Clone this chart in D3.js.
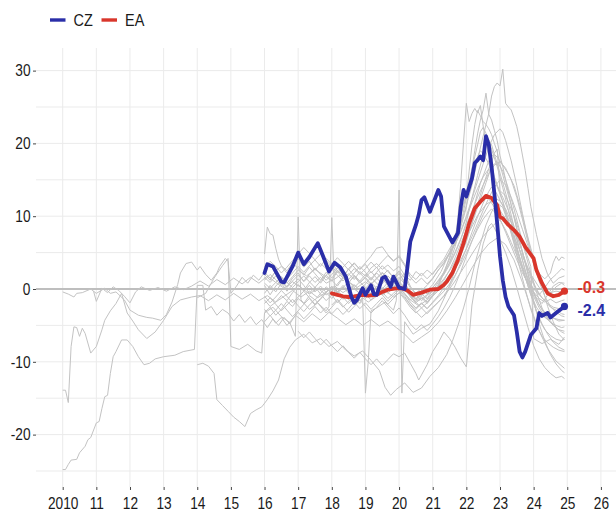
<!DOCTYPE html>
<html>
<head>
<meta charset="utf-8">
<script src="https://cdn.jsdelivr.net/npm/d3@7"></script>
<style>
  html, body { margin: 0; padding: 0; background: #fff; }
  svg { display: block; font-family: "Liberation Sans", Arial, Helvetica, sans-serif; }
</style>
</head>
<body>
<svg id="chart" width="616" height="511"></svg>
<script>
// ---- axis ticks ----
const yearTicks = [2010, 2011, 2012, 2013, 2014, 2015, 2016, 2017, 2018, 2019, 2020, 2021, 2022, 2023, 2024, 2025, 2026];
const valueTicks = [30, 20, 10, 0, -10, -20];
const gridValues = [-25, -20, -15, -10, -5, 0, 5, 10, 15, 20, 25, 30];

// ---- highlighted series ----
const czSeries = [["2016-01",2.2],["2016-02",3.4],["2016-04",3.1],["2016-07",1.0],["2016-08",0.9],["2016-11",3.1],["2017-01",5.0],["2017-03",3.4],["2017-05",4.4],["2017-08",6.3],["2017-10",4.4],["2017-12",2.4],["2018-02",3.6],["2018-04",3.0],["2018-06",1.7],["2018-08",-1.1],["2018-09",-1.9],["2018-10",-1.5],["2018-12",0.1],["2019-01",-0.8],["2019-03",0.5],["2019-04",-0.7],["2019-05",-0.8],["2019-07",1.5],["2019-08",1.7],["2019-10",0.3],["2019-11",1.7],["2020-01",0.2],["2020-03",0.0],["2020-04",3.1],["2020-05",6.5],["2020-07",8.8],["2020-08",10.2],["2020-09",12.2],["2020-10",12.6],["2020-12",10.6],["2021-03",13.6],["2021-04",12.7],["2021-05",8.6],["2021-08",6.4],["2021-10",7.7],["2021-11",11.3],["2021-12",13.6],["2022-01",12.7],["2022-03",15.2],["2022-04",17.3],["2022-05",17.7],["2022-06",18.2],["2022-07",17.7],["2022-08",21.0],["2022-09",19.8],["2022-10",16.8],["2022-11",13.1],["2022-12",9.0],["2023-01",4.5],["2023-02",1.2],["2023-03",-1.1],["2023-04",-2.4],["2023-06",-3.6],["2023-07",-5.9],["2023-08",-8.6],["2023-09",-9.4],["2023-10",-8.6],["2023-12",-6.3],["2024-02",-5.4],["2024-03",-3.3],["2024-04",-3.7],["2024-06",-3.3],["2024-07",-3.9],["2024-09",-3.3],["2024-10",-3.0],["2024-12",-2.4]];

const eaSeries = [["2018-01",-0.6],["2018-03",-0.8],["2018-05",-1.0],["2018-07",-1.1],["2018-09",-1.0],["2018-12",-0.8],["2019-02",-0.9],["2019-05",-0.8],["2019-07",-0.4],["2019-09",-0.1],["2019-12",0.1],["2020-02",0.1],["2020-04",-0.2],["2020-06",-0.8],["2020-09",-0.5],["2020-12",-0.1],["2021-03",0.0],["2021-05",0.6],["2021-06",1.0],["2021-08",2.2],["2021-10",4.0],["2021-12",6.3],["2022-02",9.0],["2022-04",11.1],["2022-06",12.0],["2022-08",12.8],["2022-10",12.5],["2022-12",11.5],["2023-01",9.9],["2023-02",9.7],["2023-04",8.8],["2023-06",8.1],["2023-08",7.2],["2023-10",5.8],["2024-01",4.2],["2024-02",2.6],["2024-04",0.8],["2024-06",-0.6],["2024-08",-1.0],["2024-10",-0.8],["2024-12",-0.3]];

// ---- other member states (grey background lines) ----
const peer01 = [["2010-01",-24.8],["2010-02",-24.8],["2010-03",-24.1],["2010-04",-23.5],["2010-06",-23.4],["2010-07",-22.5],["2010-09",-21.6],["2010-10",-20.7],["2010-11",-20.4],["2011-01",-18.4],["2011-02",-18.2],["2011-03",-16.4],["2011-04",-14.8],["2011-05",-14.6],["2011-06",-11.6],["2011-07",-9.3],["2011-08",-8.6],["2011-10",-7.0],["2011-12",-7.0],["2012-02",-7.9],["2012-04",-9.3],["2012-06",-10.4],["2012-08",-10.2],["2012-10",-9.6],["2013-01",-9.3],["2013-05",-9.1],["2013-08",-8.6],["2013-12",-8.3],["2014-01",0.5],["2014-03",0.5],["2014-04",-2.9],["2014-06",-2.4],["2014-08",-3.6],["2014-10",-2.8],["2014-12",-3.3],["2015-02",-4.4],["2015-04",-3.5],["2015-06",-4.6],["2015-08",-3.8],["2015-10",-4.9],["2015-12",-4.2],["2016-02",-5.3],["2016-04",-4.1],["2016-06",-5.0],["2016-08",-3.9],["2016-10",-4.8],["2016-12",-3.6],["2017-03",-4.5],["2017-06",-3.4],["2017-09",-4.3],["2017-12",-3.2],["2018-03",-4.0],["2018-06",-4.9],["2018-09",-4.1],["2018-12",-5.0],["2019-03",-4.2],["2019-06",-5.1],["2019-09",-4.4],["2019-12",-5.3],["2020-03",-6.2],["2020-06",-7.4],["2020-09",-6.6],["2020-12",-5.8],["2021-03",-4.6],["2021-06",-3.0],["2021-09",-1.2],["2021-12",0.8],["2022-03",2.9],["2022-06",4.8],["2022-09",6.2],["2022-12",7.0],["2023-03",6.1],["2023-06",4.0],["2023-09",0.9],["2023-12",-2.6],["2024-03",-5.8],["2024-06",-8.2],["2024-09",-9.9],["2024-12",-10.9]];

const peer02 = [["2010-01",-13.9],["2010-02",-13.9],["2010-03",-15.6],["2010-04",-7.9],["2010-05",-5.2],["2010-06",-5.3],["2010-07",-6.5],["2010-08",-5.4],["2010-09",-6.1],["2010-11",-8.8],["2011-01",-7.9],["2011-03",-5.6],["2011-04",-4.3],["2011-06",-3.0],["2011-08",-2.0],["2011-10",-0.6],["2011-12",-3.3],["2012-02",-4.4],["2012-04",-5.6],["2012-07",-6.8],["2012-10",-5.9],["2013-01",-4.3],["2013-04",-2.4],["2013-07",-1.5],["2013-11",-1.1],["2014-02",-0.9],["2014-05",-1.6],["2014-08",-0.8],["2014-11",-1.5],["2015-02",-0.6],["2015-05",-1.4],["2015-08",-0.7],["2015-11",-1.6],["2016-02",-0.9],["2016-05",-1.8],["2016-08",-1.0],["2016-11",-0.2],["2017-02",-1.1],["2017-05",-0.3],["2017-08",-1.2],["2017-11",-0.4],["2018-02",0.4],["2018-05",-0.5],["2018-08",0.3],["2018-11",-0.6],["2019-02",0.2],["2019-05",-0.7],["2019-08",0.1],["2019-11",0.9],["2020-02",0.1],["2020-05",-0.9],["2020-08",-1.6],["2020-11",-0.8],["2021-02",0.0],["2021-05",1.4],["2021-08",3.1],["2021-11",5.4],["2022-02",7.8],["2022-05",10.1],["2022-08",11.6],["2022-10",12.1],["2022-12",11.4],["2023-03",9.6],["2023-06",7.2],["2023-09",4.5],["2023-12",2.0],["2024-03",0.2],["2024-06",-0.6],["2024-09",-0.3],["2024-12",-0.5]];

const peer03 = [["2010-01",-0.4],["2010-03",-0.7],["2010-05",-1.1],["2010-06",-0.6],["2010-08",-0.5],["2010-11",0.0],["2011-01",-0.6],["2011-04",0.1],["2011-06",-0.6],["2011-08",-0.4],["2011-11",-1.5],["2012-01",-2.9],["2012-04",-3.6],["2012-07",-3.9],["2012-09",-4.0],["2012-12",-4.3],["2013-02",-3.5],["2013-04",-1.8],["2013-06",0.6],["2013-07",2.2],["2013-09",3.5],["2013-11",3.7],["2014-01",2.6],["2014-02",3.1],["2014-04",2.0],["2014-06",1.2],["2014-08",2.2],["2014-09",3.1],["2014-11",4.2],["2014-12",3.8],["2015-01",-0.6],["2015-03",0.4],["2015-05",1.6],["2015-07",0.8],["2015-09",1.9],["2015-11",1.2],["2016-01",2.3],["2016-03",1.5],["2016-05",2.4],["2016-07",1.6],["2016-09",0.8],["2016-11",1.7],["2017-01",2.6],["2017-04",1.8],["2017-07",2.7],["2017-10",1.9],["2018-01",1.1],["2018-04",1.9],["2018-07",1.0],["2018-10",0.2],["2019-01",1.0],["2019-04",0.1],["2019-07",-0.8],["2019-10",0.0],["2020-01",0.8],["2020-04",-0.5],["2020-07",-1.4],["2020-10",-0.6],["2021-01",0.6],["2021-04",2.4],["2021-07",5.0],["2021-10",8.6],["2022-01",12.8],["2022-03",16.5],["2022-05",19.8],["2022-06",21.6],["2022-07",22.2],["2022-08",21.4],["2022-10",19.2],["2022-12",16.8],["2023-02",13.9],["2023-04",10.8],["2023-06",7.5],["2023-08",4.4],["2023-10",1.6],["2023-12",-0.8],["2024-02",-2.5],["2024-04",-3.6],["2024-06",-4.2],["2024-08",-4.0],["2024-10",-4.4],["2024-12",-4.3]];

const peer04 = [["2010-12",-0.3],["2011-01",-1.7],["2011-03",0.1],["2011-05",-0.5],["2011-07",0.3],["2011-09",-0.2],["2011-11",-1.0],["2012-01",-1.9],["2012-03",-0.4],["2012-05",0.3],["2012-08",-0.2],["2012-11",0.2],["2013-02",-0.3],["2013-05",0.3],["2013-08",-0.1],["2013-11",0.4],["2014-02",1.1],["2014-05",0.4],["2014-08",1.3],["2014-11",0.6],["2015-02",1.5],["2015-05",0.7],["2015-08",1.6],["2015-11",0.8],["2016-02",1.8],["2016-05",0.9],["2016-08",0.1],["2016-11",1.0],["2017-02",0.2],["2017-05",-0.7],["2017-08",0.1],["2017-11",-0.8],["2018-02",0.0],["2018-05",-0.9],["2018-08",-1.7],["2018-11",-0.9],["2019-02",-1.8],["2019-05",-1.0],["2019-08",-0.2],["2019-11",-1.1],["2020-02",-0.3],["2020-05",-1.5],["2020-08",-2.3],["2020-11",-1.5],["2021-02",-0.6],["2021-05",0.8],["2021-08",2.6],["2021-11",4.9],["2022-02",7.9],["2022-05",11.2],["2022-08",14.6],["2022-10",16.8],["2022-12",17.5],["2023-02",16.2],["2023-04",13.8],["2023-06",11.0],["2023-08",8.0],["2023-10",5.0],["2023-12",2.2],["2024-02",-0.4],["2024-04",-2.6],["2024-06",-4.1],["2024-08",-5.0],["2024-10",-5.6],["2024-12",-5.8]];

const peer05 = [["2014-01",-1.2],["2014-04",-0.6],["2014-07",1.5],["2014-10",3.2],["2014-12",4.2],["2015-01",-7.9],["2015-04",-8.3],["2015-07",-7.6],["2015-10",-8.5],["2015-12",-8.8],["2016-01",-3.3],["2016-04",-2.5],["2016-07",-3.8],["2016-10",-4.6],["2016-12",-6.5],["2017-01",9.9],["2017-02",-1.5],["2017-05",-2.8],["2017-08",-1.9],["2017-11",-3.0],["2017-12",-2.4],["2018-01",9.8],["2018-02",-0.5],["2018-05",-1.4],["2018-08",-0.6],["2018-11",-2.0],["2018-12",-1.2],["2019-01",-14.3],["2019-02",-10.0],["2019-03",-3.0],["2019-05",-2.6],["2019-08",-1.8],["2019-11",-2.9],["2019-12",-1.6],["2020-01",13.6],["2020-02",-14.3],["2020-03",-4.5],["2020-06",-6.2],["2020-09",-5.4],["2020-12",-4.8],["2021-03",-3.0],["2021-06",-0.5],["2021-09",2.6],["2021-12",6.2],["2022-03",10.4],["2022-06",14.5],["2022-09",17.6],["2022-12",19.2],["2023-01",13.5],["2023-03",12.8],["2023-06",10.1],["2023-09",6.5],["2023-12",3.1],["2024-01",-6.8],["2024-04",-7.5],["2024-07",-6.9],["2024-10",-7.6],["2024-12",-6.6]];

const peer06 = [["2016-01",-1.5],["2016-03",-2.4],["2016-05",-1.8],["2016-07",-0.9],["2016-09",-1.6],["2016-11",-0.5],["2017-01",0.6],["2017-03",-0.2],["2017-05",0.9],["2017-07",1.7],["2017-09",0.8],["2017-11",1.9],["2018-01",1.2],["2018-03",2.4],["2018-05",1.5],["2018-07",2.8],["2018-09",3.6],["2018-11",2.7],["2019-01",3.4],["2019-03",2.2],["2019-05",3.0],["2019-07",1.8],["2019-09",2.6],["2019-11",1.5],["2020-01",2.3],["2020-03",0.8],["2020-05",-0.9],["2020-07",-1.8],["2020-09",-2.6],["2020-11",-1.9],["2021-01",-0.8],["2021-03",0.6],["2021-05",2.4],["2021-07",4.1],["2021-09",6.5],["2021-10",9.8],["2021-11",14.5],["2021-12",20.2],["2022-01",25.5],["2022-02",23.0],["2022-03",24.1],["2022-04",24.8],["2022-05",24.2],["2022-06",25.2],["2022-07",22.4],["2022-08",20.1],["2022-09",18.6],["2022-10",17.5],["2022-11",15.3],["2022-12",14.1],["2023-02",12.0],["2023-04",9.2],["2023-06",6.4],["2023-08",3.8],["2023-10",1.5],["2023-12",0.2],["2024-02",-1.2],["2024-04",-2.0],["2024-06",-0.8],["2024-08",0.4],["2024-10",0.9],["2024-12",0.8]];

const peer07 = [["2016-01",2.0],["2016-03",1.2],["2016-05",2.5],["2016-07",3.1],["2016-09",2.2],["2016-11",3.4],["2017-01",4.2],["2017-03",3.0],["2017-05",3.8],["2017-07",2.6],["2017-09",3.5],["2017-11",2.8],["2018-01",3.6],["2018-03",2.5],["2018-05",1.9],["2018-07",2.7],["2018-09",1.8],["2018-11",0.9],["2019-01",1.6],["2019-03",0.7],["2019-05",1.5],["2019-07",2.3],["2019-09",1.4],["2019-11",0.6],["2020-01",1.3],["2020-03",2.1],["2020-05",0.4],["2020-07",-0.8],["2020-09",-0.2],["2020-11",0.5],["2021-01",1.4],["2021-03",2.6],["2021-05",3.5],["2021-07",4.8],["2021-09",6.2],["2021-11",8.5],["2022-01",11.2],["2022-02",13.8],["2022-03",16.5],["2022-04",19.0],["2022-05",21.3],["2022-06",23.2],["2022-07",24.6],["2022-08",26.9],["2022-09",24.0],["2022-10",23.2],["2022-11",21.8],["2022-12",20.4],["2023-01",18.3],["2023-02",16.8],["2023-03",15.0],["2023-05",11.6],["2023-07",8.2],["2023-09",5.1],["2023-11",2.4],["2024-01",0.6],["2024-03",-0.8],["2024-05",-1.6],["2024-07",-2.5],["2024-09",-2.9],["2024-11",-3.4],["2024-12",-3.5]];

const peer08 = [["2016-01",-3.2],["2016-03",-2.5],["2016-05",-3.6],["2016-07",-2.8],["2016-09",-1.7],["2016-11",-2.4],["2017-01",-1.3],["2017-03",-2.0],["2017-05",-0.9],["2017-07",-1.5],["2017-09",-0.6],["2017-11",0.3],["2018-01",-0.4],["2018-03",0.7],["2018-05",1.6],["2018-07",0.8],["2018-09",1.9],["2018-11",1.1],["2019-01",2.0],["2019-03",1.2],["2019-05",2.2],["2019-07",1.4],["2019-09",0.5],["2019-11",1.3],["2020-01",2.1],["2020-03",1.0],["2020-05",-0.6],["2020-07",-1.4],["2020-09",-0.7],["2020-11",-1.3],["2021-01",-0.2],["2021-03",0.9],["2021-05",2.1],["2021-07",3.6],["2021-09",5.8],["2021-11",8.9],["2022-01",12.5],["2022-02",16.2],["2022-03",19.8],["2022-04",22.6],["2022-05",24.5],["2022-06",23.8],["2022-07",23.0],["2022-08",22.6],["2022-09",22.0],["2022-10",21.2],["2022-11",20.0],["2022-12",18.9],["2023-01",17.1],["2023-03",14.2],["2023-05",11.5],["2023-07",8.3],["2023-09",5.0],["2023-11",2.1],["2024-01",-0.4],["2024-03",-2.2],["2024-05",-3.5],["2024-07",-4.4],["2024-09",-5.3],["2024-11",-5.9],["2024-12",-6.1]];

const peer09 = [["2016-01",4.8],["2016-02",8.5],["2016-03",7.6],["2016-04",7.4],["2016-05",5.6],["2016-06",4.1],["2016-07",3.2],["2016-09",2.5],["2016-11",3.6],["2017-01",2.8],["2017-03",1.9],["2017-05",3.0],["2017-07",2.1],["2017-09",1.2],["2017-11",2.3],["2018-01",1.5],["2018-03",2.6],["2018-05",1.8],["2018-07",0.9],["2018-09",1.7],["2018-11",0.8],["2019-01",1.6],["2019-03",2.4],["2019-05",1.5],["2019-07",0.7],["2019-09",1.8],["2019-11",1.0],["2020-01",0.3],["2020-03",-0.6],["2020-05",-1.5],["2020-07",-0.8],["2020-09",-1.6],["2020-11",-0.9],["2021-01",0.2],["2021-03",1.1],["2021-05",2.0],["2021-07",3.3],["2021-09",4.9],["2021-11",6.8],["2022-01",9.2],["2022-03",12.5],["2022-05",15.6],["2022-07",18.4],["2022-08",19.6],["2022-09",20.5],["2022-10",19.8],["2022-11",18.5],["2022-12",17.2],["2023-02",14.6],["2023-04",11.8],["2023-06",8.5],["2023-08",5.4],["2023-10",2.6],["2023-12",0.3],["2024-02",-1.5],["2024-04",-2.8],["2024-06",-3.6],["2024-08",-4.0],["2024-10",-4.2],["2024-12",-4.3]];

const peer10 = [["2016-01",-0.6],["2016-03",0.5],["2016-05",-0.4],["2016-07",0.8],["2016-09",-0.3],["2016-11",0.6],["2017-01",1.4],["2017-03",0.5],["2017-05",-0.6],["2017-07",0.3],["2017-09",-0.7],["2017-11",-1.6],["2018-01",-0.8],["2018-03",-1.9],["2018-05",-1.1],["2018-07",-2.0],["2018-09",-1.2],["2018-11",-0.4],["2019-01",-1.3],["2019-03",-0.5],["2019-05",0.4],["2019-07",-0.4],["2019-09",-1.3],["2019-11",-0.6],["2020-01",0.2],["2020-03",-0.7],["2020-05",-1.8],["2020-07",-2.6],["2020-09",-1.9],["2020-11",-2.7],["2021-01",-1.8],["2021-03",-0.9],["2021-05",0.2],["2021-07",1.5],["2021-09",2.9],["2021-11",4.6],["2022-01",6.5],["2022-03",9.0],["2022-05",11.6],["2022-07",14.2],["2022-09",16.5],["2022-11",18.5],["2022-12",18.1],["2023-01",17.6],["2023-02",17.0],["2023-04",15.8],["2023-06",14.2],["2023-08",11.6],["2023-10",8.5],["2023-12",5.6],["2024-02",2.8],["2024-04",0.4],["2024-06",-2.4],["2024-08",-4.5],["2024-10",-6.2],["2024-12",-7.0]];

const peer11 = [["2016-01",1.2],["2016-03",2.0],["2016-05",1.3],["2016-07",0.5],["2016-09",1.4],["2016-11",2.2],["2017-01",3.1],["2017-03",2.3],["2017-05",3.2],["2017-07",4.0],["2017-09",3.1],["2017-11",4.2],["2018-01",3.4],["2018-03",4.3],["2018-05",3.5],["2018-07",2.6],["2018-09",3.5],["2018-11",2.7],["2019-01",3.6],["2019-03",4.5],["2019-05",5.6],["2019-07",5.8],["2019-09",4.7],["2019-11",3.9],["2020-01",4.4],["2020-03",3.2],["2020-05",2.0],["2020-07",1.3],["2020-09",2.2],["2020-11",1.4],["2021-01",2.2],["2021-03",3.0],["2021-05",3.8],["2021-07",5.0],["2021-09",6.1],["2021-11",7.8],["2022-01",9.8],["2022-03",11.9],["2022-05",13.8],["2022-07",15.4],["2022-09",16.5],["2022-10",15.9],["2022-11",15.2],["2022-12",14.1],["2023-02",12.6],["2023-04",10.8],["2023-06",8.6],["2023-08",6.2],["2023-10",3.9],["2023-12",1.8],["2024-02",0.0],["2024-04",-1.2],["2024-06",-2.0],["2024-08",-2.5],["2024-10",-2.7],["2024-12",-2.9]];

const peer12 = [["2016-01",-2.0],["2016-03",-1.2],["2016-05",-2.1],["2016-07",-3.0],["2016-09",-2.2],["2016-11",-1.4],["2017-01",-2.3],["2017-03",-3.1],["2017-05",-2.2],["2017-07",-1.4],["2017-09",-2.4],["2017-11",-3.3],["2018-01",-2.5],["2018-03",-1.6],["2018-05",-2.5],["2018-07",-1.7],["2018-09",-0.8],["2018-11",-1.6],["2019-01",-0.7],["2019-03",-1.5],["2019-05",-0.6],["2019-07",0.2],["2019-09",-0.6],["2019-11",0.3],["2020-01",1.0],["2020-03",0.2],["2020-05",-1.0],["2020-07",-1.7],["2020-09",-1.0],["2020-11",-1.8],["2021-01",-1.0],["2021-03",-0.2],["2021-05",0.7],["2021-07",1.6],["2021-09",2.8],["2021-11",4.0],["2022-01",5.5],["2022-03",7.2],["2022-05",9.0],["2022-07",10.8],["2022-09",12.5],["2022-11",14.0],["2023-01",15.0],["2023-03",14.3],["2023-05",12.6],["2023-07",10.5],["2023-09",8.2],["2023-11",5.9],["2024-01",3.8],["2024-03",2.1],["2024-05",1.4],["2024-07",2.2],["2024-08",3.6],["2024-09",4.5],["2024-10",3.9],["2024-11",4.4],["2024-12",4.2]];

const peer13 = [["2016-01",-4.5],["2016-03",-3.6],["2016-05",-4.7],["2016-07",-3.9],["2016-09",-5.0],["2016-11",-4.1],["2017-01",-3.2],["2017-03",-4.1],["2017-05",-3.3],["2017-07",-2.4],["2017-09",-3.3],["2017-11",-2.5],["2018-01",-3.4],["2018-03",-2.6],["2018-05",-3.5],["2018-07",-2.7],["2018-09",-1.8],["2018-11",-2.7],["2019-01",-1.9],["2019-03",-2.8],["2019-05",-2.0],["2019-07",-1.2],["2019-09",-2.1],["2019-11",-1.3],["2020-01",-0.5],["2020-03",-1.4],["2020-05",-2.5],["2020-07",-3.3],["2020-09",-2.6],["2020-11",-3.4],["2021-01",-2.6],["2021-03",-1.8],["2021-05",-0.9],["2021-07",0.3],["2021-09",1.8],["2021-11",3.6],["2022-01",5.6],["2022-03",7.8],["2022-05",9.9],["2022-07",11.8],["2022-09",13.4],["2022-10",14.0],["2022-11",13.6],["2022-12",13.0],["2023-02",11.4],["2023-04",9.3],["2023-06",6.8],["2023-08",4.2],["2023-10",1.6],["2023-12",-0.8],["2024-02",-3.0],["2024-04",-4.8],["2024-06",-6.2],["2024-08",-7.3],["2024-10",-8.0],["2024-12",-8.4]];

const peer14 = [["2017-01",0.6],["2017-03",-0.3],["2017-05",0.5],["2017-07",-0.4],["2017-09",0.4],["2017-11",-0.5],["2018-01",0.3],["2018-03",-0.6],["2018-05",0.2],["2018-07",1.0],["2018-09",0.2],["2018-11",-0.7],["2019-01",0.1],["2019-03",0.9],["2019-05",0.1],["2019-07",-0.8],["2019-09",0.0],["2019-11",0.8],["2020-01",1.6],["2020-03",0.7],["2020-05",-0.5],["2020-07",-1.3],["2020-09",-0.6],["2020-11",-1.4],["2021-01",-0.6],["2021-03",0.3],["2021-05",1.2],["2021-07",2.6],["2021-09",4.3],["2021-11",6.2],["2022-01",8.1],["2022-03",10.0],["2022-05",11.6],["2022-07",12.6],["2022-08",13.0],["2022-09",12.4],["2022-11",11.2],["2023-01",9.6],["2023-03",7.8],["2023-05",5.9],["2023-07",4.0],["2023-09",2.2],["2023-11",0.8],["2024-01",-0.4],["2024-03",-1.3],["2024-05",-1.8],["2024-07",-1.4],["2024-09",-1.9],["2024-11",-1.6],["2024-12",-1.5]];

const peer15 = [["2016-01",3.0],["2016-03",3.8],["2016-05",3.1],["2016-07",2.2],["2016-09",3.0],["2016-11",3.9],["2017-01",4.8],["2017-03",5.7],["2017-05",4.9],["2017-07",4.0],["2017-09",4.8],["2017-11",3.9],["2018-01",3.1],["2018-03",2.2],["2018-05",3.0],["2018-07",3.8],["2018-09",3.0],["2018-11",2.2],["2019-01",1.4],["2019-03",0.6],["2019-05",1.4],["2019-07",2.2],["2019-09",1.3],["2019-11",0.5],["2020-01",-0.3],["2020-03",-1.2],["2020-05",-2.1],["2020-07",-2.8],["2020-09",-2.0],["2020-11",-2.7],["2021-01",-1.9],["2021-03",-1.1],["2021-05",-0.3],["2021-07",0.7],["2021-09",1.9],["2021-11",3.3],["2022-01",4.9],["2022-03",6.6],["2022-05",8.2],["2022-07",9.6],["2022-09",10.6],["2022-10",11.0],["2022-11",10.6],["2023-01",9.5],["2023-03",8.1],["2023-05",6.4],["2023-07",4.6],["2023-09",2.7],["2023-11",0.8],["2024-01",-1.0],["2024-03",-2.6],["2024-05",-3.8],["2024-07",-4.6],["2024-09",-5.0],["2024-11",-5.3],["2024-12",-5.2]];

const peer16 = [["2016-01",-1.0],["2016-03",-1.9],["2016-05",-1.1],["2016-07",-0.2],["2016-09",-1.0],["2016-11",-1.9],["2017-01",-1.1],["2017-03",-0.3],["2017-05",-1.2],["2017-07",-2.1],["2017-09",-1.3],["2017-11",-0.4],["2018-01",0.4],["2018-03",-0.5],["2018-05",0.3],["2018-07",-0.6],["2018-09",0.2],["2018-11",1.0],["2019-01",0.2],["2019-03",-0.7],["2019-05",0.1],["2019-07",-0.8],["2019-09",-1.7],["2019-11",-0.9],["2020-01",-0.1],["2020-03",-1.0],["2020-05",-2.2],["2020-07",-3.1],["2020-09",-3.9],["2020-11",-3.2],["2021-01",-2.5],["2021-03",-1.8],["2021-05",-1.0],["2021-07",0.0],["2021-09",1.1],["2021-11",2.3],["2022-01",3.5],["2022-03",4.8],["2022-05",6.0],["2022-07",7.2],["2022-09",8.1],["2022-11",8.9],["2023-01",9.5],["2023-03",10.0],["2023-05",9.2],["2023-07",7.5],["2023-09",5.1],["2023-11",2.0],["2024-01",-1.6],["2024-03",-4.8],["2024-05",-7.2],["2024-07",-9.0],["2024-09",-10.3],["2024-11",-11.2],["2024-12",-11.5]];

const peer17 = [["2017-01",-5.8],["2017-03",-6.7],["2017-05",-5.9],["2017-07",-6.8],["2017-09",-7.7],["2017-11",-6.9],["2018-01",-7.8],["2018-03",-8.6],["2018-05",-7.8],["2018-07",-8.7],["2018-09",-9.5],["2018-11",-8.7],["2019-01",-9.6],["2019-03",-10.4],["2019-05",-9.6],["2019-07",-10.5],["2019-09",-9.7],["2019-11",-8.9],["2020-01",-9.3],["2020-03",-8.8],["2020-05",-10.2],["2020-07",-11.6],["2020-08",-12.5],["2020-09",-11.8],["2020-11",-10.4],["2021-01",-8.6],["2021-03",-7.4],["2021-05",-5.9],["2021-07",-6.8],["2021-09",-8.0],["2021-11",-9.5],["2022-01",-10.7],["2022-02",-6.5],["2022-03",-2.2],["2022-05",2.5],["2022-07",6.2],["2022-09",8.6],["2022-10",9.0],["2022-11",8.4],["2023-01",6.8],["2023-03",5.0],["2023-05",2.8],["2023-07",0.2],["2023-09",-2.6],["2023-11",-5.3],["2024-01",-7.8],["2024-03",-9.6],["2024-05",-10.8],["2024-07",-11.6],["2024-09",-12.2],["2024-11",-12.0],["2024-12",-12.3]];

const peer18 = [["2014-01",-10.4],["2014-03",-10.2],["2014-05",-10.6],["2014-07",-11.6],["2014-08",-15.2],["2014-10",-16.0],["2014-12",-16.8],["2015-02",-17.6],["2015-04",-18.2],["2015-06",-18.9],["2015-08",-17.1],["2015-10",-16.6],["2015-12",-16.2],["2016-02",-15.2],["2016-04",-14.0],["2016-06",-12.5],["2016-08",-9.6],["2016-10",-8.0],["2016-12",-7.0],["2017-03",-6.2],["2017-06",-7.4],["2017-09",-6.8],["2017-12",-7.9],["2018-03",-7.2],["2018-06",-8.4],["2018-09",-9.2],["2018-12",-8.5],["2019-03",-9.8],["2019-06",-11.2],["2019-08",-13.5],["2019-10",-14.6],["2019-12",-13.8],["2020-03",-12.9],["2020-06",-14.2],["2020-09",-13.6],["2020-12",-12.0],["2021-03",-10.8],["2021-06",-9.0],["2021-08",-7.2],["2021-10",-5.0],["2021-12",-2.6],["2022-02",0.2],["2022-04",3.4],["2022-06",6.2],["2022-08",8.8],["2022-10",10.6],["2022-12",11.8],["2023-02",11.2],["2023-04",9.0],["2023-06",6.2],["2023-08",3.0],["2023-10",0.0],["2023-12",-2.8],["2024-02",-5.0],["2024-04",-6.5],["2024-06",-7.4],["2024-08",-8.0],["2024-10",-8.4],["2024-12",-8.6]];

const peer19 = [["2016-01",0.8],["2016-03",0.1],["2016-05",0.9],["2016-07",1.7],["2016-09",0.9],["2016-11",0.2],["2017-01",1.0],["2017-03",1.8],["2017-05",1.0],["2017-07",0.2],["2017-09",1.1],["2017-11",1.9],["2018-01",2.7],["2018-03",1.9],["2018-05",1.1],["2018-07",1.9],["2018-09",2.8],["2018-11",2.0],["2019-01",2.8],["2019-03",3.7],["2019-05",2.9],["2019-07",3.8],["2019-09",4.6],["2019-11",3.8],["2020-01",4.6],["2020-03",3.4],["2020-05",1.6],["2020-07",0.8],["2020-09",1.5],["2020-11",0.7],["2021-01",1.5],["2021-03",2.6],["2021-05",3.6],["2021-07",4.9],["2021-09",6.4],["2021-11",8.0],["2022-01",10.0],["2022-03",12.4],["2022-05",14.8],["2022-07",17.2],["2022-09",19.5],["2022-11",21.2],["2023-01",22.0],["2023-02",21.5],["2023-03",20.4],["2023-05",17.6],["2023-07",14.2],["2023-09",10.4],["2023-11",6.8],["2024-01",3.6],["2024-03",1.0],["2024-05",-1.0],["2024-07",-2.4],["2024-09",-3.2],["2024-11",-3.7],["2024-12",-3.8]];

const peer20 = [["2018-01",-2.2],["2018-03",-1.4],["2018-05",-2.3],["2018-07",-3.2],["2018-09",-2.4],["2018-11",-1.5],["2019-01",-2.4],["2019-03",-3.3],["2019-05",-2.5],["2019-07",-1.6],["2019-09",-2.5],["2019-11",-3.4],["2020-01",-2.6],["2020-03",-3.6],["2020-05",-4.8],["2020-07",-5.6],["2020-09",-4.9],["2020-11",-5.7],["2021-01",-4.8],["2021-03",-3.8],["2021-05",-2.6],["2021-07",-1.2],["2021-09",0.5],["2021-11",2.4],["2022-01",4.5],["2022-03",6.6],["2022-05",8.5],["2022-07",10.2],["2022-09",11.6],["2022-11",12.5],["2023-01",12.1],["2023-03",11.0],["2023-05",9.2],["2023-07",6.8],["2023-09",4.0],["2023-11",1.0],["2024-01",-1.9],["2024-03",-4.2],["2024-05",-5.6],["2024-07",-6.4],["2024-09",-6.9],["2024-11",-7.1],["2024-12",-6.9]];

const peer21 = [["2016-01",-2.8],["2016-03",-3.7],["2016-05",-2.9],["2016-07",-2.0],["2016-09",-2.9],["2016-11",-3.8],["2017-01",-3.0],["2017-03",-2.1],["2017-05",-1.3],["2017-07",-2.2],["2017-09",-1.4],["2017-11",-0.5],["2018-01",-1.3],["2018-03",-0.4],["2018-05",0.5],["2018-07",-0.3],["2018-09",0.6],["2018-11",-0.2],["2019-01",0.7],["2019-03",1.6],["2019-05",0.8],["2019-07",0.0],["2019-09",0.9],["2019-11",1.8],["2020-01",1.0],["2020-03",0.2],["2020-05",-1.1],["2020-07",-1.9],["2020-09",-1.2],["2020-11",-2.0],["2021-01",-1.0],["2021-03",0.4],["2021-05",2.2],["2021-07",4.4],["2021-09",7.0],["2021-11",10.2],["2022-01",13.2],["2022-03",15.8],["2022-05",18.2],["2022-06",19.0],["2022-07",18.6],["2022-09",17.2],["2022-11",15.4],["2023-01",13.2],["2023-03",10.8],["2023-05",8.2],["2023-07",5.6],["2023-09",3.2],["2023-11",1.2],["2024-01",0.0],["2024-03",-0.8],["2024-05",0.2],["2024-07",1.3],["2024-09",2.0],["2024-11",2.8],["2024-12",2.6]];

const peer22 = [["2016-01",0.5],["2016-03",-0.8],["2016-05",0.4],["2016-07",1.2],["2016-09",0.3],["2016-11",1.5],["2017-01",2.2],["2017-03",1.0],["2017-05",1.8],["2017-07",0.9],["2017-09",1.6],["2017-11",0.8],["2018-01",1.2],["2018-03",0.4],["2018-05",1.5],["2018-07",2.1],["2018-09",1.3],["2018-11",2.4],["2019-01",1.8],["2019-03",2.9],["2019-05",3.5],["2019-07",2.7],["2019-09",3.3],["2019-11",2.5],["2020-01",3.1],["2020-03",1.9],["2020-05",1.2],["2020-07",2.4],["2020-09",1.8],["2020-11",2.6],["2021-01",2.0],["2021-03",3.2],["2021-05",4.1],["2021-07",5.5],["2021-09",6.8],["2021-11",8.9],["2022-01",11.5],["2022-03",14.2],["2022-05",17.8],["2022-07",21.0],["2022-09",24.1],["2022-10",26.5],["2022-11",27.8],["2022-12",28.3],["2023-01",27.9],["2023-02",30.2],["2023-03",25.5],["2023-04",25.0],["2023-05",24.6],["2023-06",23.5],["2023-07",22.3],["2023-08",20.5],["2023-09",18.4],["2023-10",16.3],["2023-11",13.8],["2023-12",11.3],["2024-02",7.5],["2024-04",4.2],["2024-06",2.0],["2024-08",0.8],["2024-10",1.5],["2024-12",1.8]];

const peer23 = [["2016-01",1.6],["2016-03",0.9],["2016-05",1.8],["2016-07",1.0],["2016-09",0.2],["2016-11",1.1],["2017-01",1.9],["2017-03",1.1],["2017-05",2.0],["2017-07",2.9],["2017-09",2.0],["2017-11",1.2],["2018-01",2.0],["2018-03",2.9],["2018-05",2.1],["2018-07",1.3],["2018-09",2.2],["2018-11",3.1],["2019-01",2.3],["2019-03",1.4],["2019-05",2.3],["2019-07",3.2],["2019-09",2.4],["2019-11",1.6],["2020-01",2.5],["2020-03",1.5],["2020-05",0.2],["2020-07",-0.6],["2020-09",0.1],["2020-11",-0.7],["2021-01",0.2],["2021-03",1.2],["2021-05",2.3],["2021-07",3.6],["2021-09",5.1],["2021-11",6.9],["2022-01",8.8],["2022-03",10.7],["2022-05",12.6],["2022-07",14.3],["2022-09",15.9],["2022-11",17.0],["2023-01",17.5],["2023-03",16.6],["2023-05",15.0],["2023-07",12.6],["2023-09",9.6],["2023-11",6.4],["2024-01",3.4],["2024-03",1.2],["2024-05",-0.2],["2024-07",-0.6],["2024-09",0.3],["2024-11",0.8],["2024-12",0.5]];

const peerSeries = [peer01, peer02, peer03, peer04, peer05, peer06, peer07, peer08, peer09, peer10, peer11, peer12,
                    peer13, peer14, peer15, peer16, peer17, peer18, peer19, peer20, peer21, peer22, peer23];

// ---- legend entries ----
const legendKeys = ["CZ", "EA"];

// ---- layout ----
const panel = { left: 36, right: 616, top: 48, bottom: 487 };
const colors = { CZ: "#2a2ea8", EA: "#d9362b", peer: "#c3c3c3", grid: "#ebebeb", zero: "#bebebe", text: "#1a1a1a" };

// month string -> decimal year (January = whole year)
const toYear = s => { const [yy, mm] = s.split("-").map(Number); return yy + (mm - 1) / 12; };

// squeeze a text run horizontally to get a condensed face from the installed sans
function condense(selection, factor) {
  selection.each(function () {
    const w = this.getComputedTextLength();
    d3.select(this).attr("textLength", (w * factor).toFixed(2)).attr("lengthAdjust", "spacingAndGlyphs");
  });
}

const x = d3.scaleLinear().domain([2010, 2026]).range([62.7, 600.9]);
const y = d3.scaleLinear().domain([-20, 30]).range([434.6, 70.6]);

const svg = d3.select("#chart");

// grid
const grid = svg.append("g");
grid.selectAll("line.h").data(gridValues).join("line")
  .attr("x1", panel.left).attr("x2", panel.right)
  .attr("y1", d => y(d)).attr("y2", d => y(d))
  .attr("stroke", colors.grid).attr("stroke-width", 1);
grid.selectAll("line.v").data(yearTicks).join("line")
  .attr("x1", d => x(d)).attr("x2", d => x(d))
  .attr("y1", panel.top).attr("y2", panel.bottom)
  .attr("stroke", colors.grid).attr("stroke-width", 1);

// zero reference line
svg.append("line")
  .attr("x1", panel.left).attr("x2", panel.right)
  .attr("y1", y(0)).attr("y2", y(0))
  .attr("stroke", colors.zero).attr("stroke-width", 1.8);

const line = d3.line().x(d => x(toYear(d[0]))).y(d => y(d[1]));

// background member-state lines
svg.append("g").selectAll("path").data(peerSeries).join("path")
  .attr("d", line)
  .attr("fill", "none")
  .attr("stroke", colors.peer)
  .attr("stroke-width", 1)
  .attr("stroke-linejoin", "round");

// highlighted lines
const highlight = [
  { key: "EA", data: eaSeries, color: colors.EA },
  { key: "CZ", data: czSeries, color: colors.CZ }
];
highlight.forEach(s => {
  svg.append("path").datum(s.data)
    .attr("d", line)
    .attr("fill", "none")
    .attr("stroke", s.color)
    .attr("stroke-width", 3.8)
    .attr("stroke-linejoin", "round")
    .attr("stroke-linecap", "round");
  const last = s.data[s.data.length - 1];
  svg.append("circle")
    .attr("cx", x(toYear(last[0]))).attr("cy", y(last[1]))
    .attr("r", 3.6).attr("fill", s.color);
});

// end-value labels, pushed apart so they do not overlap
const ends = highlight.map(s => {
  const last = s.data[s.data.length - 1];
  return { ...s, t: toYear(last[0]), v: last[1], ly: y(last[1]) };
}).sort((a, b) => a.ly - b.ly);
const minGap = 23;
if (ends[1].ly - ends[0].ly < minGap) {
  const mid = (ends[0].ly + ends[1].ly) / 2;
  ends[0].ly = mid - minGap / 2;
  ends[1].ly = mid + minGap / 2;
}
svg.append("g").selectAll("text").data(ends).join("text")
  .attr("x", d => x(d.t) + 13)
  .attr("y", d => d.ly)
  .attr("dy", "0.36em")
  .attr("fill", d => d.color)
  .attr("font-size", 16)
  .attr("font-weight", "bold")
  .text(d => d.v.toFixed(1));

// axes
const yAxis = d3.axisLeft(y).tickValues(valueTicks).tickFormat(d => String(d)).tickSize(3).tickPadding(2.5);
const gy = svg.append("g").attr("transform", `translate(${panel.left},0)`).call(yAxis);
gy.select(".domain").remove();
gy.selectAll(".tick line").attr("stroke", "#444");
gy.selectAll(".tick text").attr("fill", colors.text).attr("font-size", 16.5).attr("font-family", null).call(condense, 0.83);

const xAxis = d3.axisBottom(x).tickValues(yearTicks)
  .tickFormat(d => d === 2010 ? "2010" : String(d % 100)).tickSize(3).tickPadding(7);
const gx = svg.append("g").attr("transform", `translate(0,${panel.bottom})`).call(xAxis);
gx.select(".domain").remove();
gx.selectAll(".tick line").attr("stroke", "#444");
gx.selectAll(".tick text").attr("fill", colors.text).attr("font-size", 16.5).attr("font-family", null).call(condense, 0.83);

// legend
const legend = svg.append("g").attr("transform", "translate(50,20)");
const lg = legend.selectAll("g").data(legendKeys).join("g")
  .attr("transform", (d, i) => `translate(${i * 51.5},0)`);
lg.append("line").attr("x1", 0).attr("x2", 15.5).attr("y1", 0).attr("y2", 0)
  .attr("stroke", d => colors[d]).attr("stroke-width", 3.4);
lg.append("text").attr("x", 23.5).attr("dy", "0.36em")
  .attr("font-size", 17).attr("fill", colors.text).text(d => d).call(condense, 0.85);
</script>
</body>
</html>
